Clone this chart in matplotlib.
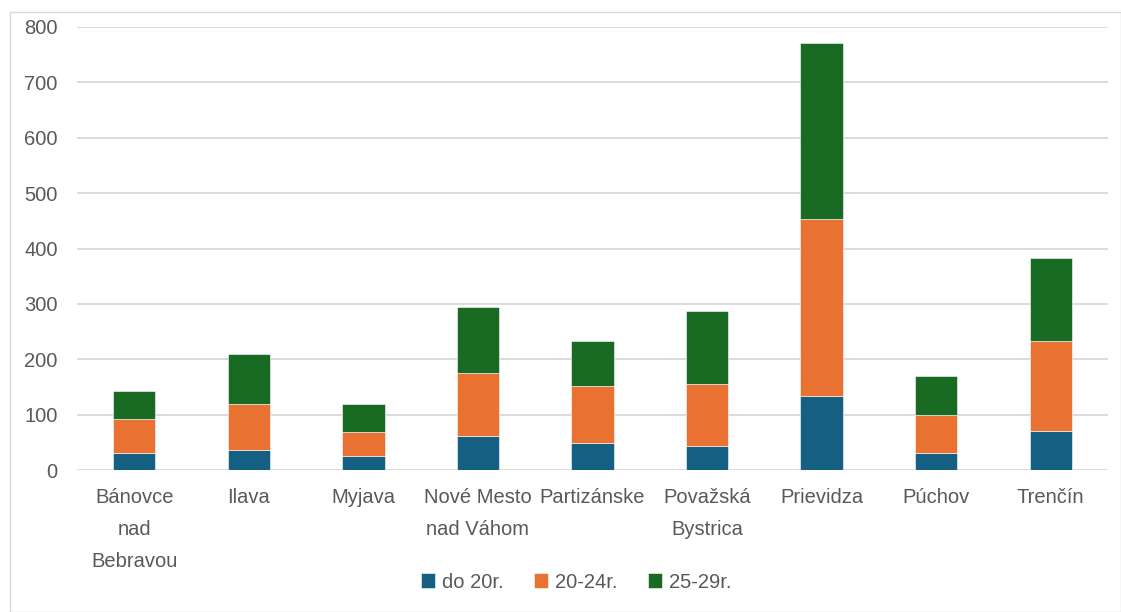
import matplotlib
matplotlib.use("Agg")
import matplotlib.pyplot as plt
from matplotlib.patches import Rectangle
import numpy as np

categories = ["Bánovce\nnad\nBebravou", "Ilava", "Myjava", "Nové Mesto\nnad Váhom",
              "Partizánske", "Považská\nBystrica", "Prievidza", "Púchov", "Trenčín"]
do20 = [31, 36, 25, 62, 49, 44, 134, 31, 71]
r20_24 = [61, 83, 44, 113, 103, 112, 320, 69, 162]
r25_29 = [50, 91, 50, 119, 81, 132, 317, 69, 150]
series_names = ["do 20r.", "20-24r.", "25-29r."]
colors = ["#156082", "#E97132", "#196B24"]
yticks = [0, 100, 200, 300, 400, 500, 600, 700, 800]

plt.rcParams['font.family'] = ['Liberation Sans', 'DejaVu Sans']
fig = plt.figure(figsize=(11.21, 6.12), dpi=100)
ax = fig.add_axes([77/1121, 1-470/612, (1108-77)/1121, (470-27)/612])

x = np.arange(len(categories))
bottom = np.zeros(len(categories))
for vals, name, c in zip([do20, r20_24, r25_29], series_names, colors):
    ax.bar(x, vals, width=0.37, bottom=bottom, color=c, label=name,
           edgecolor="white", linewidth=0.4, zorder=3)
    bottom += np.array(vals)

ax.set_xlim(-0.5, len(categories) - 0.5)
ax.set_ylim(0, 800)
ax.set_yticks(yticks)
ax.set_yticklabels([str(v) for v in yticks])
ax.set_xticks(x)
ax.set_xticklabels(categories, linespacing=1.85)
ax.tick_params(axis='both', length=0, labelsize=14.5, colors="#595959")
ax.tick_params(axis='x', pad=13)
ax.tick_params(axis='y', pad=14)
ax.grid(axis='y', color="#D9D9D9", linewidth=1.3, zorder=0)
for s in ax.spines.values():
    s.set_visible(False)

leg = fig.legend(loc='center', bbox_to_anchor=(576/1121, 1-582/612), ncol=3,
                 frameon=False, fontsize=14.5, handlelength=0.7, handleheight=0.7,
                 handletextpad=0.35, columnspacing=1.5)
for t in leg.get_texts():
    t.set_color("#595959")

fig.patches.append(Rectangle((10/1121, 0), 1 - 10/1121, 1 - 12/612, transform=fig.transFigure,
                             fill=False, edgecolor="#D9D9D9", linewidth=1.0))

fig.savefig("out.png", dpi=100)
